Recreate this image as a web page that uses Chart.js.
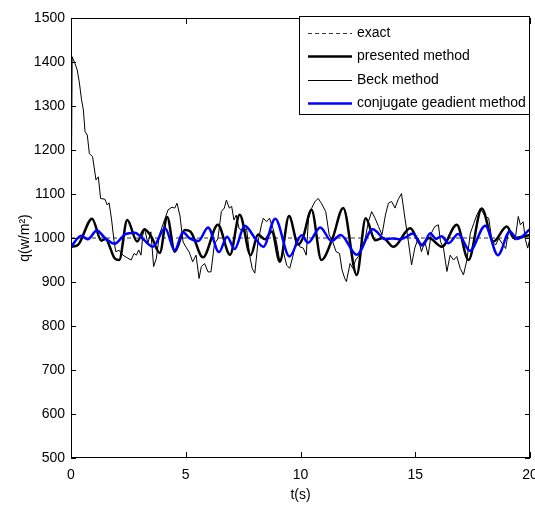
<!DOCTYPE html>
<html lang="en">
<head>
    <meta charset="UTF-8">
    <title>Heat flux estimation</title>
    <style type="text/css">
        body { margin: 0; background: #fff; }
    </style>
</head>
<body>
    <canvas id="myChart" width="535" height="505"></canvas>
    <script src="https://cdn.jsdelivr.net/npm/chart.js"></script>
    <script>
    // axis ticks
    const xTicks = [0, 5, 10, 15, 20];
    const yTicks = [500, 600, 700, 800, 900, 1000, 1100, 1200, 1300, 1400, 1500];

    // exact heat flux
    const tExact = [0, 20];
    const qExact = [1000, 1000];

    // presented method
    const tPres = [0,0.3,0.92,1.32,1.5,1.9,2.1,2.45,2.88,3.2,3.5,3.87,4.19,4.52,4.96,5.2,5.75,6.4,6.93,7.35,7.83,8.15,8.45,8.75,9.1,9.5,9.9,10.1,10.48,10.91,11.4,11.86,12.45,12.84,13.25,13.6,14.05,14.78,15.27,15.6,16.16,16.81,17.32,17.9,18.4,18.99,19.3,20];
    const qPres = [980,984,1044,994,998,954,950,1041,992,1020,1003,966,1048,969,1018,1015,956,1030,962,1053,961,1008,997,1015,946,1050,985,1000,1064,950,1000,1068,916,1045,995,1000,980,1022,984,1000,980,1030,950,1067,992,1026,1000,1007];

    // Beck method
    const tBeck = [0,0.05,0.17,0.27,0.36,0.46,0.54,0.61,0.71,0.8,
        0.94,1.09,1.19,1.29,1.48,1.58,1.66,1.77,1.87,1.95,
        2.1,2.26,2.48,2.62,2.75,2.85,2.95,3.05,3.13,3.2,
        3.35,3.48,3.6,3.72,3.85,4.0,4.23,4.4,4.52,4.62,
        4.75,4.88,5.0,5.15,5.3,5.45,5.58,5.68,5.82,5.97,
        6.1,6.25,6.4,6.55,6.68,6.77,6.9,7.0,7.1,7.2,
        7.32,7.5,7.65,7.78,7.9,8.01,8.15,8.3,8.38,8.52,
        8.65,8.8,8.95,9.1,9.25,9.4,9.53,9.68,9.82,9.97,
        10.12,10.25,10.35,10.48,10.62,10.77,10.91,11.1,11.25,11.4,
        11.55,11.7,11.81,11.93,12.0,12.16,12.28,12.4,12.52,12.67,
        12.82,12.96,13.1,13.25,13.4,13.55,13.7,13.83,13.97,14.12,
        14.25,14.4,14.55,14.7,14.84,14.98,15.13,15.27,15.42,15.56,
        15.7,15.85,16.01,16.1,16.23,16.38,16.52,16.67,16.81,16.96,
        17.1,17.25,17.4,17.55,17.68,17.83,17.97,18.05,18.2,18.35,
        18.5,18.64,18.78,18.94,19.07,19.2,19.35,19.49,19.58,19.7,
        19.8,19.9,20];
    const qBeck = [980,1412,1397,1382,1355,1314,1291,1242,1234,1192,
        1185,1132,1139,1090,1088,1075,1080,1041,995,969,
        972,961,954,950,965,961,973,961,1007,1022,
        988,1014,935,954,1007,1030,1064,1070,1068,1079,
        1050,992,980,968,946,961,908,935,942,923,
        923,987,998,1060,1068,1086,1068,1072,1041,1052,
        1022,1015,1022,961,930,920,992,1030,1045,1037,
        1045,1022,992,946,969,938,931,961,996,980,
        977,961,1045,1067,1082,1090,1079,1060,1007,992,
        969,965,927,908,901,942,931,950,958,976,
        999,1037,1060,1045,1026,1007,1052,1079,1083,1068,
        1087,1101,1045,992,939,977,1000,969,992,961,
        1011,1026,1030,992,977,924,961,950,958,931,
        916,950,1011,1033,1052,1067,1056,1049,1045,992,
        984,999,988,976,1018,1011,995,1049,1030,1037,
        996,977,1000];

    // conjugate gradient method
    const tCG = [0,0.45,0.72,1.13,1.5,1.9,2.35,2.78,3.15,3.57,4.1,4.52,4.88,5.17,5.55,5.97,6.45,6.8,7.13,7.57,8.0,8.38,8.9,9.52,10.05,10.33,10.86,11.35,11.75,12.45,13.15,13.7,14.0,14.3,14.6,14.88,15.33,15.65,15.9,16.15,16.45,16.87,17.38,18.05,18.6,19.12,19.45,20];
    const qCG = [980,1005,997,1017,999,987,1008,1012,997,980,1022,972,1013,999,993,1024,968,1003,975,1028,1001,980,1044,958,1006,989,1024,993,1007,962,1020,997,999,997,1002,1010,983,1011,998,1004,988,1009,971,1028,961,1015,998,1020];

    const pts = (t, q) => t.map((v, i) => ({ x: v, y: q[i] }));
    const FONT = 'Liberation Sans, Arial, sans-serif';

    // matlab style box, inward ticks and legend
    const framePlugin = {
        id: 'frame',
        afterDatasetsDraw(chart) {
            const ctx = chart.ctx;
            const a = chart.chartArea;
            const xs = chart.scales.x, ys = chart.scales.y;
            ctx.save();
            ctx.strokeStyle = '#000';
            ctx.lineWidth = 1;
            ctx.strokeRect(a.left + 0.5, a.top + 0.5, a.right - a.left - 1, a.bottom - a.top - 1);
            ctx.beginPath();
            xTicks.forEach(v => {
                const px = Math.round(xs.getPixelForValue(v)) + 0.5;
                ctx.moveTo(px, a.bottom); ctx.lineTo(px, a.bottom - 6);
                ctx.moveTo(px, a.top); ctx.lineTo(px, a.top + 6);
            });
            yTicks.forEach(v => {
                const py = Math.round(ys.getPixelForValue(v)) + 0.5;
                ctx.moveTo(a.left, py); ctx.lineTo(a.left + 5, py);
                ctx.moveTo(a.right, py); ctx.lineTo(a.right - 5, py);
            });
            ctx.stroke();

            // legend box
            const bx = 299, by = 16, bw = a.right - 299, bh = 99;
            ctx.fillStyle = '#fff';
            ctx.fillRect(bx, by, bw, bh);
            ctx.strokeRect(bx + 0.5, by + 0.5, bw - 1, bh - 1);
            ctx.font = '14px ' + FONT;
            ctx.textBaseline = 'middle';
            chart.data.datasets.forEach((ds, i) => {
                const ry = Math.round(by + 17 + i * 23.4) + 0.5;
                ctx.beginPath();
                ctx.strokeStyle = ds.borderColor;
                ctx.lineWidth = ds.borderWidth;
                ctx.setLineDash(ds.borderDash || []);
                ctx.moveTo(308, ry); ctx.lineTo(352, ry);
                ctx.stroke();
                ctx.setLineDash([]);
                ctx.fillStyle = '#000';
                ctx.fillText(ds.label, 357, ry);
            });
            ctx.restore();
        }
    };

    const ctx = document.getElementById('myChart').getContext('2d');
    const myChart = new Chart(ctx, {
        type: 'line',
        data: {
            datasets: [{
                label: 'exact',
                data: pts(tExact, qExact),
                borderColor: '#333',
                borderWidth: 1,
                borderDash: [4, 3],
                order: 3
            }, {
                label: 'presented method',
                data: pts(tPres, qPres),
                borderColor: '#000',
                borderWidth: 2.5,
                cubicInterpolationMode: 'monotone',
                order: 2
            }, {
                label: 'Beck method',
                data: pts(tBeck, qBeck),
                borderColor: '#000',
                borderWidth: 1,
                order: 1
            }, {
                label: 'conjugate geadient method',
                data: pts(tCG, qCG),
                borderColor: '#0000ff',
                borderWidth: 2.5,
                cubicInterpolationMode: 'monotone',
                order: 0
            }]
        },
        options: {
            responsive: false,
            animation: false,
            events: [],
            layout: { padding: { top: 18, right: 5, left: 0, bottom: 0 } },
            elements: { point: { radius: 0 }, line: { fill: false } },
            plugins: { legend: { display: false }, tooltip: { enabled: false } },
            scales: {
                x: {
                    type: 'linear',
                    min: 0,
                    max: 20,
                    afterFit: s => { s.height = 47; s.paddingLeft = 0; s.paddingRight = 0; },
                    afterBuildTicks: s => { s.ticks = xTicks.map(v => ({ value: v })); },
                    grid: { display: false, drawTicks: false },
                    border: { display: false },
                    ticks: { color: '#000', padding: 9, font: { family: FONT, size: 14 }, callback: v => String(v) },
                    title: { display: true, text: 't(s)', color: '#000', padding: { top: 0, bottom: 1 }, font: { family: FONT, size: 14 } }
                },
                y: {
                    min: 500,
                    max: 1500,
                    afterFit: s => { s.width = 71; s.paddingTop = 0; s.paddingBottom = 0; },
                    afterBuildTicks: s => { s.ticks = yTicks.map(v => ({ value: v })); },
                    grid: { display: false, drawTicks: false },
                    border: { display: false },
                    ticks: { color: '#000', padding: 6, font: { family: FONT, size: 14 }, callback: v => String(v) },
                    title: { display: true, text: 'q(w/m²)', color: '#000', padding: { top: 17, bottom: 0 }, font: { family: FONT, size: 14 } }
                }
            }
        },
        plugins: [framePlugin]
    });
</script>
</body>
</html>
